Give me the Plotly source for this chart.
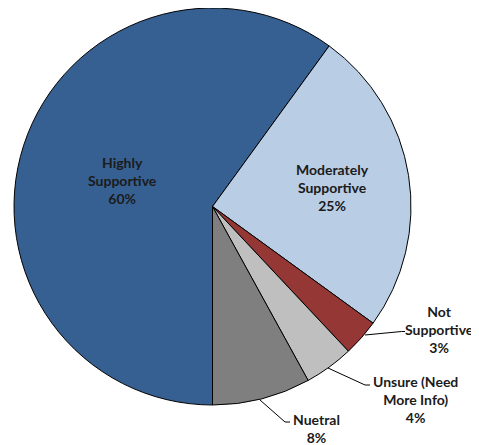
import plotly.graph_objects as go

# the page body adds an 8px margin, so the figure is drawn 8px smaller and shifted
OFF = 8
W, H = 479 - OFF, 445 - OFF

labels = ["Highly<br>Supportive", "Moderately<br>Supportive", "Not<br>Supportive",
          "Unsure (Need<br>More Info)", "Nuetral"]
values = [60, 25, 3, 4, 8]
colors = ["#376092", "#B9CDE5", "#953735", "#BFBFBF", "#7F7F7F"]

# label centres in screen pixels (x, y from top)
label_pos = [(122, 180.5), (332.5, 187.5), (439, 329), (415.5, 399), (316, 428)]

# leader lines for the small slices, screen pixels
leaders = [
    [(365, 335), (401.5, 331.5), (405, 331.5)],
    [(328, 368), (365, 385), (370, 385)],
    [(260, 400), (285, 422), (290, 422)],
]


def px(x, y):
    return (x - OFF) / W, 1 - (y - OFF) / H


fig = go.Figure(go.Pie(
    labels=labels,
    values=values,
    sort=False,
    direction="clockwise",
    rotation=180,
    marker=dict(colors=colors, line=dict(color="#000000", width=1)),
    textinfo="none",
    hoverinfo="label+percent",
    showlegend=False,
    domain=dict(x=[px(14, 0)[0], px(411, 0)[0]], y=[px(0, 405)[1], px(0, 8)[1]]),
))

total = sum(values)
for lab, val, (x, y) in zip(labels, values, label_pos):
    ax, ay = px(x, y)
    fig.add_annotation(
        x=ax, y=ay, xref="paper", yref="paper",
        text=f"<b>{lab}<br>{round(val / total * 100)}%</b>",
        showarrow=False, xanchor="center", yanchor="middle",
        font=dict(family="Lato", size=14, color="#1b1b1b"),
    )

for pts in leaders:
    p = [px(x, y) for x, y in pts]
    path = "M " + " L ".join(f"{a},{b}" for a, b in p)
    fig.add_shape(type="path", path=path, xref="paper", yref="paper",
                  line=dict(color="#000000", width=1))

fig.update_layout(
    width=W, height=H,
    margin=dict(l=0, r=0, t=0, b=0),
    paper_bgcolor="white",
    plot_bgcolor="white",
)

fig.write_html("out.html")
